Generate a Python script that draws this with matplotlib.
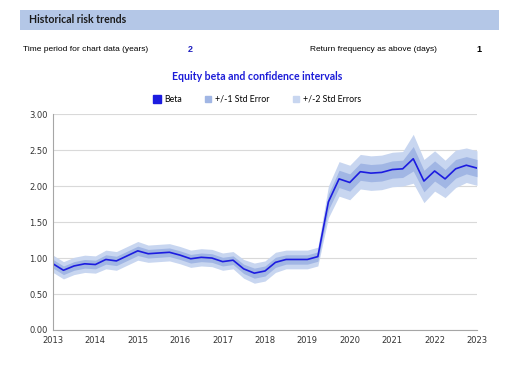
import pandas as pd
import matplotlib.pyplot as plt
import matplotlib.dates as mdates
from matplotlib.patches import Rectangle
from matplotlib.lines import Line2D

# quarterly beta estimates, 2013 Q1 .. 2023 Q1
dates = pd.date_range("2013-01-01", "2023-01-01", freq="QS")
beta = [0.92, 0.83, 0.89, 0.92,
        0.91, 0.98, 0.96, 1.03,
        1.10, 1.06, 1.07, 1.08,
        1.04, 0.99, 1.01, 1.00,
        0.95, 0.97, 0.85, 0.79,
        0.82, 0.94, 0.98, 0.98,
        0.98, 1.02, 1.78, 2.10,
        2.05, 2.20, 2.18, 2.19,
        2.23, 2.24, 2.38, 2.07,
        2.21, 2.10, 2.24, 2.29,
        2.25]
std_err = [0.06, 0.06, 0.06, 0.06,
           0.06, 0.065, 0.065, 0.065,
           0.065, 0.06, 0.06, 0.06,
           0.06, 0.06, 0.06, 0.06,
           0.06, 0.06, 0.065, 0.07,
           0.07, 0.07, 0.065, 0.065,
           0.065, 0.065, 0.11, 0.12,
           0.12, 0.12, 0.12, 0.12,
           0.12, 0.12, 0.17, 0.15,
           0.14, 0.13, 0.13, 0.12,
           0.12]
yticks = [0, 0.5, 1.0, 1.5, 2.0, 2.5, 3.0]

c_line = "#1c1ce0"
c_se1 = "#a1b6e4"
c_se2 = "#c8d6f0"

df = pd.DataFrame({"beta": beta, "se": std_err}, index=dates)

fig = plt.figure(figsize=(5.28, 3.69), dpi=100)

# header bar
fig.patches.append(Rectangle((0.038, 0.919), 0.907, 0.054, transform=fig.transFigure,
                             facecolor="#b4c7e7", edgecolor="none"))
fig.text(0.054, 0.946, "Historical risk trends", fontsize=7.6, fontweight="bold",
         family="Lato", va="center", color="#1a1a1a")
fig.text(0.044, 0.867, "Time period for chart data (years)", fontsize=6.0,
         family="Liberation Sans", va="center")
fig.text(0.356, 0.867, "2", fontsize=6.5, fontweight="bold", color="#2020c0",
         family="Liberation Sans", va="center")
fig.text(0.587, 0.867, "Return frequency as above (days)", fontsize=6.0,
         family="Liberation Sans", va="center")
fig.text(0.903, 0.867, "1", fontsize=6.5, fontweight="bold",
         family="Liberation Sans", va="center")
fig.text(0.487, 0.794, "Equity beta and confidence intervals", fontsize=7.6,
         fontweight="bold", color="#1c1cd8", family="Lato", ha="center", va="center")

ax = fig.add_axes([0.1004, 0.1057, 0.803, 0.585])
ax.fill_between(df.index, df["beta"] - 2 * df["se"], df["beta"] + 2 * df["se"],
                color=c_se2, lw=0)
ax.fill_between(df.index, df["beta"] - df["se"], df["beta"] + df["se"],
                color=c_se1, lw=0)
ax.plot(df.index, df["beta"], color=c_line, lw=1.2)

ax.set_ylim(0, 3)
ax.set_yticks(yticks)
ax.set_yticklabels([f"{v:.2f}" for v in yticks])
ax.set_xlim(dates[0], dates[-1])
ax.xaxis.set_major_locator(mdates.YearLocator())
ax.xaxis.set_major_formatter(mdates.DateFormatter("%Y"))
ax.grid(axis="y", color="#d9d9d9", lw=0.8)
ax.set_axisbelow(True)
for s in ["top", "right"]:
    ax.spines[s].set_visible(False)
for s in ["left", "bottom"]:
    ax.spines[s].set_color("#a6a6a6")
    ax.spines[s].set_linewidth(0.8)
ax.tick_params(length=0, labelsize=6, colors="#333333", pad=4)
for lab in ax.get_xticklabels() + ax.get_yticklabels():
    lab.set_family("DejaVu Sans")

handles = [Line2D([], [], ls="none", marker="s", ms=6, color=c_line),
           Line2D([], [], ls="none", marker="s", ms=4, color=c_se1),
           Line2D([], [], ls="none", marker="s", ms=4, color=c_se2)]
fig.legend(handles, ["Beta", "+/-1 Std Error", "+/-2 Std Errors"], ncol=3,
           loc="center", bbox_to_anchor=(0.487, 0.731), frameon=False,
           prop={"family": "Lato", "size": 6.3}, handletextpad=0.3,
           columnspacing=2.5, handlelength=1.0)

fig.savefig("out.png", dpi=100)
